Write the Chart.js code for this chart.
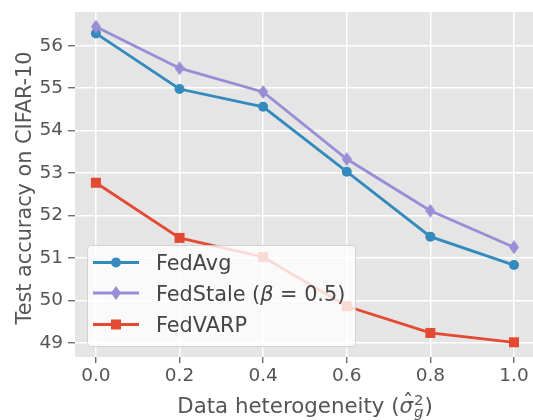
<!DOCTYPE html>
<html><head><meta charset="utf-8">
<script src="https://cdn.jsdelivr.net/npm/chart.js@4.4.0/dist/chart.umd.min.js"></script>
<style>html,body{margin:0;padding:0;background:#fff}#wrap{width:533px;height:420px;position:relative}</style>
</head><body><div id="wrap"><canvas id="c" width="533" height="420"></canvas></div>
<script>
// ---- data ----
const xValues = [0.0, 0.2, 0.4, 0.6, 0.8, 1.0];
const fedAvg = [56.29, 54.98, 54.56, 53.03, 51.50, 50.83];
const fedStale = [56.45, 55.47, 54.91, 53.33, 52.11, 51.25];
const fedVarp = [52.77, 51.47, 51.02, 49.86, 49.23, 49.01];
const xTicks = [0.0, 0.2, 0.4, 0.6, 0.8, 1.0];
const yTicks = [49, 50, 51, 52, 53, 54, 55, 56];
const seriesNames = ['FedAvg', 'FedStale', 'FedVARP'];

const BLUE = '#348ABD', PURPLE = '#988ED5', RED = '#E24A33';
const FONT = "'DejaVu Sans', sans-serif";

function thinDiamond(color) {
  const c = document.createElement('canvas');
  c.width = 10; c.height = 14;
  const g = c.getContext('2d');
  g.fillStyle = color;
  g.beginPath(); g.moveTo(5, 0); g.lineTo(10, 7); g.lineTo(5, 14); g.lineTo(0, 7); g.closePath(); g.fill();
  return c;
}
const diamondImg = thinDiamond(PURPLE);

function pts(ys) { return xValues.map((x, i) => ({x: x, y: ys[i]})); }

const bgPlugin = {
  id: 'bg',
  beforeDraw(chart) {
    const a = chart.chartArea, ctx = chart.ctx;
    ctx.save(); ctx.fillStyle = '#E5E5E5';
    ctx.fillRect(a.left, a.top, a.right - a.left, a.bottom - a.top);
    ctx.restore();
  }
};

const overlayPlugin = {
  id: 'overlay',
  afterDraw(chart) {
    const ctx = chart.ctx, a = chart.chartArea;
    // ---- legend ----
    ctx.save();
    ctx.beginPath();
    ctx.roundRect(87.5, 245.5, 268, 101, 4);
    ctx.fillStyle = 'rgba(255,255,255,0.8)'; ctx.fill();
    ctx.strokeStyle = 'rgba(204,204,204,0.8)'; ctx.lineWidth = 1; ctx.stroke();
    const baselines = [270, 300.5, 332];
    const colors = [BLUE, PURPLE, RED];
    const lfont = '20.8px ' + FONT;
    for (let i = 0; i < 3; i++) {
      const b = baselines[i];
      const y = b - 7.5;
      ctx.strokeStyle = colors[i]; ctx.lineWidth = 2.8;
      ctx.beginPath(); ctx.moveTo(93, y); ctx.lineTo(139, y); ctx.stroke();
      ctx.fillStyle = colors[i];
      if (i === 0) { ctx.beginPath(); ctx.arc(116, y, 5, 0, Math.PI * 2); ctx.fill(); }
      else if (i === 1) { ctx.drawImage(diamondImg, 111, y - 7); }
      else { ctx.fillRect(111, y - 5, 10, 10); }
      ctx.fillStyle = '#444'; ctx.textBaseline = 'alphabetic'; ctx.textAlign = 'left';
      let x = 156;
      if (i === 1) {
        ctx.font = lfont;
        const p1 = seriesNames[1] + ' (';
        ctx.fillText(p1, x, b); x += ctx.measureText(p1).width;
        ctx.font = 'italic ' + lfont;
        ctx.fillText('β', x, b); x += ctx.measureText('β').width;
        ctx.font = lfont;
        ctx.fillText(' = 0.5)', x, b);
      } else {
        ctx.font = lfont;
        ctx.fillText(seriesNames[i], x, b);
      }
    }
    // ---- y title ----
    ctx.save();
    ctx.translate(30.5, 188);
    ctx.rotate(-Math.PI / 2);
    ctx.font = '20.8px ' + FONT; ctx.fillStyle = '#555';
    ctx.textAlign = 'center'; ctx.textBaseline = 'alphabetic';
    ctx.fillText('Test accuracy on CIFAR-10', 0, 0);
    ctx.restore();
    // ---- x title ----
    const base = 412.5;
    const f = 21.3;
    ctx.font = f + 'px ' + FONT;
    const t1 = 'Data heterogeneity (';
    const w1 = ctx.measureText(t1).width;
    ctx.font = 'italic ' + f + 'px ' + FONT;
    const ws = ctx.measureText('σ').width;
    ctx.font = (f * 0.7) + 'px ' + FONT;
    const w2 = ctx.measureText('2').width;
    ctx.font = 'italic ' + (f * 0.7) + 'px ' + FONT;
    const wg = ctx.measureText('g').width;
    ctx.font = f + 'px ' + FONT;
    const w3 = ctx.measureText(')').width;
    const total = w1 + ws + 1 + Math.max(w2, wg) + 1 + w3;
    const cx = 305;
    let x = cx - total / 2;
    ctx.fillStyle = '#555'; ctx.textAlign = 'left'; ctx.textBaseline = 'alphabetic';
    ctx.font = f + 'px ' + FONT; ctx.fillText(t1, x, base); x += w1;
    ctx.font = 'italic ' + f + 'px ' + FONT; ctx.fillText('σ', x, base);
    ctx.font = f + 'px ' + FONT; ctx.textAlign = 'center';
    ctx.fillText('\u02C6', x + ws / 2 + 2, base - 4);
    ctx.textAlign = 'left';
    x += ws + 1;
    ctx.font = (f * 0.7) + 'px ' + FONT; ctx.fillText('2', x, base - 8);
    ctx.font = 'italic ' + (f * 0.7) + 'px ' + FONT; ctx.fillText('g', x, base + 4);
    x += Math.max(w2, wg) + 1;
    ctx.font = f + 'px ' + FONT; ctx.fillText(')', x, base);
    ctx.restore();
  }
};

new Chart(document.getElementById('c'), {
  type: 'line',
  data: {
    datasets: [
      {label: seriesNames[0], data: pts(fedAvg), borderColor: BLUE, backgroundColor: BLUE,
       borderWidth: 2.8, pointStyle: 'circle', pointRadius: 5, pointBorderWidth: 0, order: 3},
      {label: seriesNames[1], data: pts(fedStale), borderColor: PURPLE, backgroundColor: PURPLE,
       borderWidth: 2.8, pointStyle: diamondImg, pointRadius: 7, order: 2},
      {label: seriesNames[2], data: pts(fedVarp), borderColor: RED, backgroundColor: RED,
       borderWidth: 2.8, pointStyle: 'rect', pointRadius: 7.07, pointBorderWidth: 0, order: 1}
    ]
  },
  options: {
    responsive: false, animation: false, devicePixelRatio: 1,
    layout: {autoPadding: false, padding: {top: 12, right: 0, left: 0, bottom: 0}},
    plugins: {legend: {display: false}, tooltip: {enabled: false}},
    elements: {line: {tension: 0}},
    scales: {
      x: {
        type: 'linear', min: -0.05, max: 1.0455,
        afterBuildTicks: s => { s.ticks = xTicks.map(v => ({value: v})); },
        afterFit: s => { s.height = 63; s.paddingLeft = 0; s.paddingRight = 0; },
        ticks: {callback: v => Number(v).toFixed(1), color: '#555', font: {family: FONT, size: 18.5},
                padding: 2, maxRotation: 0, autoSkip: false},
        grid: {color: '#fff', lineWidth: 1.5, tickColor: '#555', tickLength: 6, tickWidth: 1.2},
        border: {display: false}
      },
      y: {
        type: 'linear', min: 48.663, max: 56.795,
        afterBuildTicks: s => { s.ticks = yTicks.map(v => ({value: v})); },
        afterFit: s => { s.width = 75; s.paddingTop = 0; s.paddingBottom = 0; },
        ticks: {callback: v => String(v), color: '#555', font: {family: FONT, size: 18.5},
                padding: 5, autoSkip: false},
        grid: {color: '#fff', lineWidth: 1.5, tickColor: '#555', tickLength: 7, tickWidth: 1.2},
        border: {display: false}
      }
    }
  },
  plugins: [bgPlugin, overlayPlugin]
});
</script>
</body></html>
